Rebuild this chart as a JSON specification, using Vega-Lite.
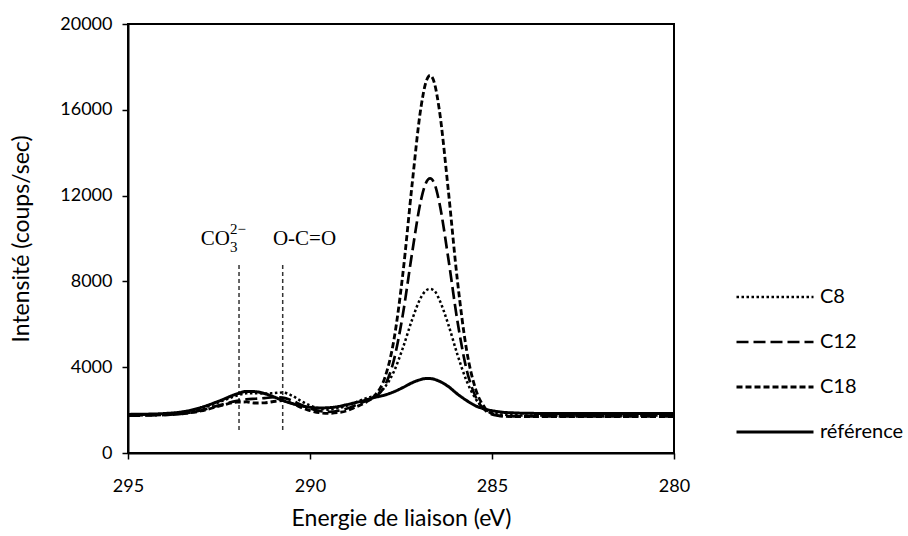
{
  "$schema": "https://vega.github.io/schema/vega-lite/v6.json",
  "width": 546,
  "height": 429,
  "autosize": "none",
  "padding": {"left": 128, "top": 24, "right": 234, "bottom": 83},
  "background": "white",
  "config": {
    "view": {"stroke": "#000", "strokeWidth": 2},
    "font": "Lato",
    "axis": {
      "domainColor": "#000", "domainWidth": 2, "tickColor": "#000", "tickWidth": 1.5, "tickSize": 6,
      "grid": false, "labelColor": "#000", "labelFontSize": 18, "titleFontSize": 23,
      "titleFontWeight": "normal", "titleColor": "#000", "labelFont": "Lato", "titleFont": "Lato"
    }
  },
  "datasets": {
    "curves": [
      {"e": 295, "C8": 1780, "C12": 1740, "C18": 1760, "référence": 1800},
      {"e": 294.5, "C8": 1790, "C12": 1750, "C18": 1765, "référence": 1810},
      {"e": 294, "C8": 1810, "C12": 1770, "C18": 1780, "référence": 1840},
      {"e": 293.5, "C8": 1880, "C12": 1830, "C18": 1830, "référence": 1920},
      {"e": 293, "C8": 2060, "C12": 1980, "C18": 1960, "référence": 2120},
      {"e": 292.5, "C8": 2370, "C12": 2220, "C18": 2180, "référence": 2420},
      {"e": 292, "C8": 2680, "C12": 2430, "C18": 2370, "référence": 2760},
      {"e": 291.75, "C8": 2780, "C12": 2500, "C18": 2380, "référence": 2870},
      {"e": 291.5, "C8": 2790, "C12": 2530, "C18": 2330, "référence": 2860},
      {"e": 291.25, "C8": 2770, "C12": 2560, "C18": 2340, "référence": 2770},
      {"e": 291, "C8": 2790, "C12": 2600, "C18": 2400, "référence": 2620},
      {"e": 290.75, "C8": 2820, "C12": 2580, "C18": 2440, "référence": 2450},
      {"e": 290.5, "C8": 2680, "C12": 2450, "C18": 2320, "référence": 2310},
      {"e": 290.25, "C8": 2430, "C12": 2250, "C18": 2130, "référence": 2200},
      {"e": 290, "C8": 2220, "C12": 2080, "C18": 1980, "référence": 2130},
      {"e": 289.75, "C8": 2080, "C12": 1960, "C18": 1880, "référence": 2100},
      {"e": 289.5, "C8": 2020, "C12": 1920, "C18": 1850, "référence": 2110},
      {"e": 289.25, "C8": 2080, "C12": 1960, "C18": 1880, "référence": 2160},
      {"e": 289, "C8": 2200, "C12": 2060, "C18": 1960, "référence": 2250},
      {"e": 288.75, "C8": 2360, "C12": 2230, "C18": 2140, "référence": 2350},
      {"e": 288.45, "C8": 2560, "C12": 2440, "C18": 2380, "référence": 2480},
      {"e": 288.2, "C8": 2700, "C12": 2610, "C18": 2720, "référence": 2600},
      {"e": 287.95, "C8": 3060, "C12": 3120, "C18": 3480, "référence": 2700},
      {"e": 287.7, "C8": 3780, "C12": 4300, "C18": 5220, "référence": 2850},
      {"e": 287.45, "C8": 4890, "C12": 6450, "C18": 8340, "référence": 3050},
      {"e": 287.2, "C8": 6190, "C12": 9270, "C18": 12440, "référence": 3270},
      {"e": 286.95, "C8": 7260, "C12": 11800, "C18": 16130, "référence": 3430},
      {"e": 286.825, "C8": 7560, "C12": 12550, "C18": 17230, "référence": 3470},
      {"e": 286.7, "C8": 7650, "C12": 12800, "C18": 17600, "référence": 3470},
      {"e": 286.575, "C8": 7550, "C12": 12530, "C18": 17200, "référence": 3430},
      {"e": 286.45, "C8": 7160, "C12": 11700, "C18": 16030, "référence": 3350},
      {"e": 286.2, "C8": 5990, "C12": 9070, "C18": 12240, "référence": 3100},
      {"e": 285.95, "C8": 4590, "C12": 6150, "C18": 8040, "référence": 2750},
      {"e": 285.7, "C8": 3370, "C12": 3900, "C18": 4820, "référence": 2450},
      {"e": 285.45, "C8": 2530, "C12": 2620, "C18": 2980, "référence": 2200},
      {"e": 285.2, "C8": 2050, "C12": 2010, "C18": 2120, "référence": 2050},
      {"e": 284.95, "C8": 1860, "C12": 1770, "C18": 1800, "référence": 1960},
      {"e": 284.7, "C8": 1790, "C12": 1720, "C18": 1720, "référence": 1900},
      {"e": 284.4, "C8": 1760, "C12": 1710, "C18": 1700, "référence": 1870},
      {"e": 284, "C8": 1750, "C12": 1710, "C18": 1700, "référence": 1850},
      {"e": 283, "C8": 1750, "C12": 1710, "C18": 1700, "référence": 1840},
      {"e": 282, "C8": 1750, "C12": 1710, "C18": 1700, "référence": 1840},
      {"e": 281, "C8": 1750, "C12": 1710, "C18": 1700, "référence": 1840},
      {"e": 280, "C8": 1750, "C12": 1710, "C18": 1700, "référence": 1840}
    ],
    "refs": [
      {"x": 291.95, "y": 1070, "y2": 8860},
      {"x": 290.75, "y": 1070, "y2": 8860}
    ],
    "notes": [
      {"x": 292.2, "y": 9700, "t": "CO", "k": "main"},
      {"x": 292.2, "y": 9700, "t": "3", "k": "sub"},
      {"x": 292.2, "y": 9700, "t": "2−", "k": "sup"},
      {"x": 290.15, "y": 9700, "t": "O-C=O", "k": "center"}
    ]
  },
  "layer": [
    {
      "data": {"name": "refs"},
      "mark": {"type": "rule", "color": "#333", "strokeWidth": 1.5, "strokeDash": [4, 3]},
      "encoding": {
        "x": {"field": "x", "type": "quantitative", "scale": {"domain": [280, 295], "reverse": true, "nice": false}},
        "y": {"field": "y", "type": "quantitative"},
        "y2": {"field": "y2"}
      }
    },
    {
      "data": {"name": "curves"},
      "transform": [{"fold": ["C8", "C12", "C18", "référence"], "as": ["serie", "val"]}],
      "mark": {"type": "line", "interpolate": "monotone", "color": "#000", "strokeCap": "butt"},
      "encoding": {
        "x": {
          "field": "e", "type": "quantitative",
          "scale": {"domain": [280, 295], "reverse": true, "nice": false},
          "axis": {"values": [295, 290, 285, 280], "labelFlush": false, "title": "Energie de liaison (eV)", "labelPadding": 18, "titlePadding": 12}
        },
        "y": {
          "field": "val", "type": "quantitative",
          "scale": {"domain": [0, 20000], "nice": false},
          "axis": {"values": [0, 4000, 8000, 12000, 16000, 20000], "format": "d", "labelFlush": false, "title": "Intensité (coups/sec)", "labelPadding": 10, "titlePadding": 26}
        },
        "strokeDash": {
          "field": "serie", "type": "nominal",
          "scale": {"domain": ["C8", "C12", "C18", "référence"], "range": [[2.5, 2.5], [12, 5], [6, 3], [1, 0]]},
          "legend": {
            "title": null, "orient": "none", "legendX": 607, "legendY": 265,
            "symbolType": "stroke", "symbolSize": 5929, "symbolStrokeColor": "#000", "symbolStrokeWidth": 2.5,
            "labelFontSize": 20, "labelFont": "Lato", "labelColor": "#000", "labelOffset": 5,
            "clipHeight": 16, "rowPadding": 25, "padding": 0
          }
        },
        "strokeWidth": {
          "field": "serie", "type": "nominal",
          "scale": {"domain": ["C8", "C12", "C18", "référence"], "range": [2.5, 3, 2.8, 2]},
          "legend": null
        }
      }
    },
    {
      "data": {"name": "notes"},
      "transform": [{"filter": "datum.k == 'main'"}],
      "mark": {"type": "text", "font": "Liberation Serif", "fontSize": 21, "align": "right", "baseline": "alphabetic", "color": "#000"},
      "encoding": {"x": {"field": "x", "type": "quantitative"}, "y": {"field": "y", "type": "quantitative"}, "text": {"field": "t"}}
    },
    {
      "data": {"name": "notes"},
      "transform": [{"filter": "datum.k == 'sub'"}],
      "mark": {"type": "text", "font": "Liberation Serif", "fontSize": 15, "align": "left", "baseline": "alphabetic", "dy": 7, "color": "#000"},
      "encoding": {"x": {"field": "x", "type": "quantitative"}, "y": {"field": "y", "type": "quantitative"}, "text": {"field": "t"}}
    },
    {
      "data": {"name": "notes"},
      "transform": [{"filter": "datum.k == 'sup'"}],
      "mark": {"type": "text", "font": "Liberation Serif", "fontSize": 15, "align": "left", "baseline": "alphabetic", "dy": -11, "color": "#000"},
      "encoding": {"x": {"field": "x", "type": "quantitative"}, "y": {"field": "y", "type": "quantitative"}, "text": {"field": "t"}}
    },
    {
      "data": {"name": "notes"},
      "transform": [{"filter": "datum.k == 'center'"}],
      "mark": {"type": "text", "font": "Liberation Serif", "fontSize": 21, "align": "center", "baseline": "alphabetic", "color": "#000"},
      "encoding": {"x": {"field": "x", "type": "quantitative"}, "y": {"field": "y", "type": "quantitative"}, "text": {"field": "t"}}
    }
  ]
}
